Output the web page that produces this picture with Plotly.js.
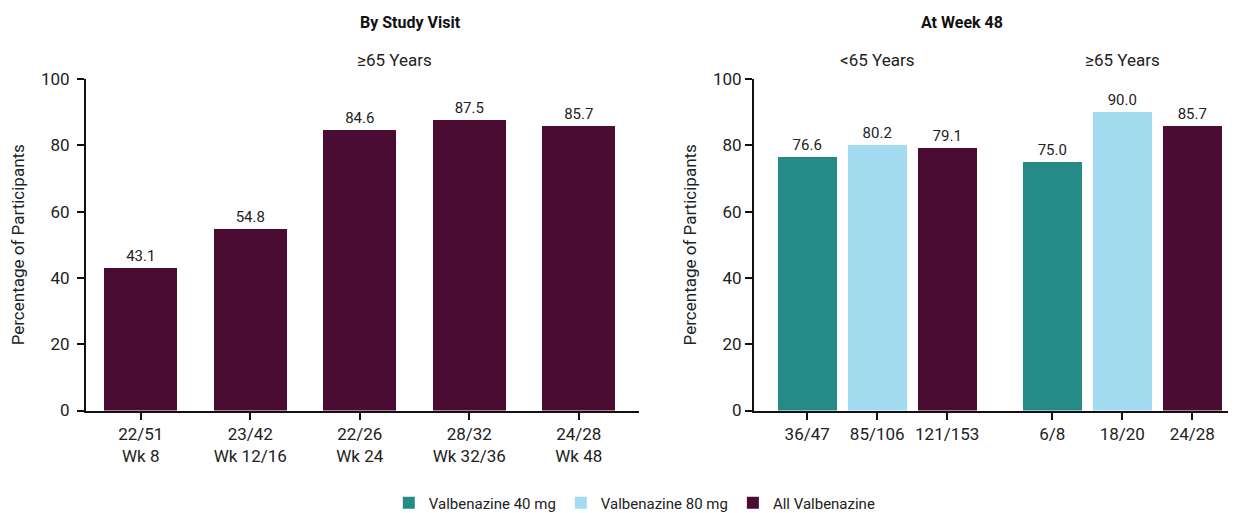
<!DOCTYPE html>
<html>
<head>
<meta charset="utf-8">
<script src="https://cdn.plot.ly/plotly-3.0.1.min.js"></script>
<style>html,body{margin:0;padding:0;background:#fff;}#chart{width:1235px;height:513px;}</style>
</head>
<body>
<div id="chart"></div>
<script>
// ---- Data ----
var visitRatios = ["22/51", "23/42", "22/26", "28/32", "24/28"];
var visitNames = ["Wk 8", "Wk 12/16", "Wk 24", "Wk 32/36", "Wk 48"];
var visitValues = [43.1, 54.8, 84.6, 87.5, 85.7];

var ageGroups = ["<65 Years", "\u226565 Years"];
var seriesNames = ["Valbenazine 40 mg", "Valbenazine 80 mg", "All Valbenazine"];
var wk48Values = {
  "Valbenazine 40 mg": [76.6, 75.0],
  "Valbenazine 80 mg": [80.2, 90.0],
  "All Valbenazine": [79.1, 85.7]
};
var wk48Ratios = {
  "Valbenazine 40 mg": ["36/47", "6/8"],
  "Valbenazine 80 mg": ["85/106", "18/20"],
  "All Valbenazine": ["121/153", "24/28"]
};

// ---- Styles ----
var colors = {"Valbenazine 40 mg": "#268a87", "Valbenazine 80 mg": "#a3dcf0", "All Valbenazine": "#4b0c33"};
var FONT = "Roboto, Arial, sans-serif";
var W = 1235, H = 513;

var traces = [];
var visitCats = visitRatios.map(function (r, i) { return r + "<br>" + visitNames[i]; });
traces.push({
  type: "bar", x: visitCats, y: visitValues, xaxis: "x", yaxis: "y",
  marker: {color: colors["All Valbenazine"]}, width: 0.67,
  text: visitValues.map(function (v) { return v.toFixed(1); }),
  textposition: "outside", cliponaxis: false,
  textfont: {family: FONT, size: 15, color: "#222"},
  showlegend: false, hoverinfo: "skip"
});

// positions for grouped bars in right panel
var groupGap = 1.5;
var tickVals = [], tickText = [];
seriesNames.forEach(function (s, si) {
  var xs = ageGroups.map(function (g, gi) { return gi * (seriesNames.length - 1 + groupGap) + si; });
  xs.forEach(function (x, gi) { tickVals.push(x); tickText.push(wk48Ratios[s][gi]); });
  traces.push({
    type: "bar", name: s, x: xs, y: wk48Values[s], xaxis: "x2", yaxis: "y2",
    marker: {color: colors[s]}, width: 0.84,
    text: wk48Values[s].map(function (v) { return v.toFixed(1); }),
    textposition: "outside", cliponaxis: false,
    textfont: {family: FONT, size: 15, color: "#222"},
    hoverinfo: "skip"
  });
});
var groupCenters = ageGroups.map(function (g, gi) { return gi * (seriesNames.length - 1 + groupGap) + (seriesNames.length - 1) / 2; });

var yBottom = 1 - 410.5 / H, yTop = 1 - 79 / H;
var axisCommon = {
  showgrid: false, zeroline: false, showline: true, linecolor: "#111", linewidth: 2,
  ticks: "outside", ticklen: 7, tickwidth: 2, tickcolor: "#111",
  tickfont: {family: FONT, size: 17, color: "#222"}
};

var layout = {
  width: W, height: H,
  margin: {l: 0, r: 0, t: 0, b: 0, autoexpand: false},
  paper_bgcolor: "#fff", plot_bgcolor: "#fff",
  font: {family: FONT, color: "#222"},
  bargap: 0,
  xaxis: Object.assign({}, axisCommon, {
    domain: [86 / W, 639 / W], type: "category", range: [-0.5, 4.55],
    anchor: "y", fixedrange: true
  }),
  yaxis: Object.assign({}, axisCommon, {
    domain: [yBottom, yTop], range: [0, 100], tickvals: [0, 20, 40, 60, 80, 100],
    anchor: "x", ticklabelstandoff: 4,
    title: {text: "Percentage of Participants", font: {family: FONT, size: 17, color: "#222"}, standoff: 12}
  }),
  xaxis2: Object.assign({}, axisCommon, {
    domain: [754 / W, 1228 / W], range: [-0.76, 6.01],
    tickvals: tickVals, ticktext: tickText, anchor: "y2"
  }),
  yaxis2: Object.assign({}, axisCommon, {
    domain: [yBottom, yTop], range: [0, 100], tickvals: [0, 20, 40, 60, 80, 100],
    anchor: "x2",
    title: {text: "Percentage of Participants", font: {family: FONT, size: 17, color: "#222"}, standoff: 12}
  }),
  legend: {
    orientation: "h", x: 0.514, xanchor: "center", y: 10 / H, yanchor: "middle",
    font: {family: FONT, size: 15, color: "#222"}, itemwidth: 30, traceorder: "normal"
  },
  annotations: [
    {text: "<b>By Study Visit</b>", xref: "paper", yref: "paper", x: 358 / W, y: 1 - 23 / H,
     yanchor: "middle", showarrow: false, font: {family: FONT, size: 16, color: "#111"}},
    {text: "<b>At Week 48</b>", xref: "paper", yref: "paper", x: 1005 / W, y: 1 - 23 / H,
     yanchor: "middle", showarrow: false, font: {family: FONT, size: 16, color: "#111"}},
    {text: ageGroups[1], xref: "paper", yref: "paper", x: 355 / W, y: 1 - 60 / H,
     yanchor: "middle", showarrow: false, font: {family: FONT, size: 17, color: "#222"}}
  ].concat(ageGroups.map(function (g, gi) {
    return {text: g, xref: "x2", yref: "paper", x: groupCenters[gi], y: 1 - 60 / H,
      yanchor: "middle", showarrow: false, font: {family: FONT, size: 17, color: "#222"}};
  }))
};

Plotly.newPlot("chart", traces, layout, {displayModeBar: false, staticPlot: true});
</script>
</body>
</html>
